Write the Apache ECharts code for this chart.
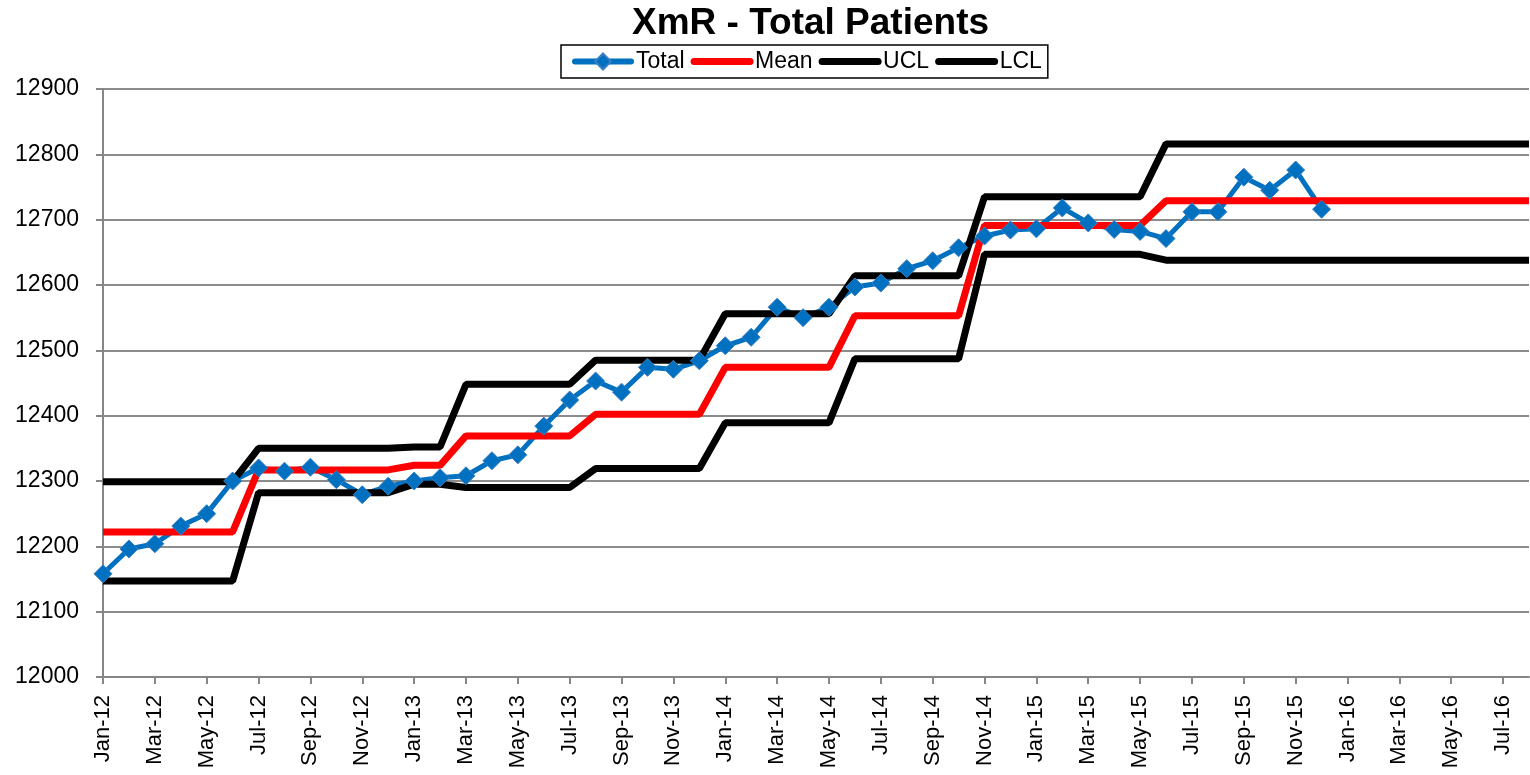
<!DOCTYPE html>
<html>
<head>
<meta charset="utf-8">
<script src="https://cdn.jsdelivr.net/npm/echarts@6/dist/echarts.min.js"></script>
<style>
html,body{margin:0;padding:0;background:#fff;}
#chart{width:1530px;height:775px;}
</style>
</head>
<body>
<div id="chart"></div>
<script>
const categories = [
 'Jan-12','Feb-12','Mar-12','Apr-12','May-12','Jun-12','Jul-12','Aug-12','Sep-12','Oct-12','Nov-12','Dec-12',
 'Jan-13','Feb-13','Mar-13','Apr-13','May-13','Jun-13','Jul-13','Aug-13','Sep-13','Oct-13','Nov-13','Dec-13',
 'Jan-14','Feb-14','Mar-14','Apr-14','May-14','Jun-14','Jul-14','Aug-14','Sep-14','Oct-14','Nov-14','Dec-14',
 'Jan-15','Feb-15','Mar-15','Apr-15','May-15','Jun-15','Jul-15','Aug-15','Sep-15','Oct-15','Nov-15','Dec-15',
 'Jan-16','Feb-16','Mar-16','Apr-16','May-16','Jun-16','Jul-16','Aug-16'
];
const total = [
 12158,12196,12204,12231,12250,12300,12320,12315,12321,12302,12279,12292,
 12300,12305,12308,12331,12340,12384,12424,12453,12436,12474,12471,12484,
 12507,12520,12566,12550,12566,12597,12603,12625,12637,12657,12675,12684,
 12686,12718,12695,12685,12682,12671,12712,12712,12765,12745,12776,12716
];
const mean = [
 12222,12222,12222,12222,12222,12222,12317,12317,12317,12317,12317,12317,
 12324,12324,12369,12369,12369,12369,12369,12402,12402,12402,12402,12402,
 12474,12474,12474,12474,12474,12553,12553,12553,12553,12553,12691,12691,
 12691,12691,12691,12691,12691,12729,12729,12729,12729,12729,12729,12729,
 12729,12729,12729,12729,12729,12729,12729,12729
];
const ucl = [
 12299,12299,12299,12299,12299,12299,12350,12350,12350,12350,12350,12350,
 12352,12352,12448,12448,12448,12448,12448,12485,12485,12485,12485,12485,
 12556,12556,12556,12556,12556,12614,12614,12614,12614,12614,12735,12735,
 12735,12735,12735,12735,12735,12816,12816,12816,12816,12816,12816,12816,
 12816,12816,12816,12816,12816,12816,12816,12816
];
const lcl = [
 12147,12147,12147,12147,12147,12147,12282,12282,12282,12282,12282,12282,
 12295,12295,12290,12290,12290,12290,12290,12319,12319,12319,12319,12319,
 12389,12389,12389,12389,12389,12487,12487,12487,12487,12487,12647,12647,
 12647,12647,12647,12647,12647,12638,12638,12638,12638,12638,12638,12638,
 12638,12638,12638,12638,12638,12638,12638,12638
];
const yMin = 12000, yMax = 12900, yStep = 100;

const chart = echarts.init(document.getElementById('chart'), null, {renderer:'canvas'});
const font = 'Liberation Sans, Arial, sans-serif';
const hidden = {color: 'rgba(0,0,0,0)', borderWidth: 0, opacity: 0};
chart.setOption({
  animation: false,
  backgroundColor: '#fff',
  title: {
    text: 'XmR - Total Patients',
    left: 627, top: 0,
    textStyle: {fontFamily: font, fontSize: 37, fontWeight: 'bold', color: '#000'}
  },
  legend: {
    left: 561, top: 45,
    padding: [5, 6, 5, 11],
    borderColor: '#000', borderWidth: 1.5,
    itemGap: 6, itemWidth: 56, itemHeight: 20,
    textStyle: {fontFamily: font, fontSize: 23, color: '#000'},
    data: [
      {name: 'Total', lineStyle: {width: 6, color: '#0070C0', cap: 'round'}},
      {name: 'Mean', itemStyle: hidden, lineStyle: {width: 7, color: '#FF0000', cap: 'round'}},
      {name: 'UCL', itemStyle: hidden, lineStyle: {width: 7, color: '#000', cap: 'round'}},
      {name: 'LCL', itemStyle: hidden, lineStyle: {width: 7, color: '#000', cap: 'round'}}
    ]
  },
  grid: {left: 103, right: 1, top: 89, bottom: 98},
  xAxis: {
    type: 'category',
    data: categories,
    boundaryGap: false,
    axisLine: {lineStyle: {color: '#868686', width: 2}},
    axisTick: {show: true, interval: 1, length: 7, lineStyle: {color: '#868686', width: 2}},
    axisLabel: {interval: 1, rotate: 90, margin: 18, color: '#000', fontFamily: font, fontSize: 22},
    splitLine: {show: false}
  },
  yAxis: {
    type: 'value',
    min: yMin, max: yMax, interval: yStep,
    axisLine: {show: true, lineStyle: {color: '#868686', width: 2}},
    axisTick: {show: true, length: 7, lineStyle: {color: '#868686', width: 2}},
    axisLabel: {color: '#000', fontFamily: font, fontSize: 23, margin: 24,
                formatter: function (v) { return String(v); }},
    splitLine: {lineStyle: {color: '#8c8c8c', width: 2}}
  },
  series: [
    {name: 'Total', type: 'line', data: total, symbol: 'diamond', symbolSize: 18,
     showAllSymbol: true,
     itemStyle: {color: '#0070C0', borderColor: '#3A7FC4', borderWidth: 1},
     lineStyle: {color: '#0070C0', width: 5}},
    {name: 'Mean', type: 'line', data: mean, symbol: 'none',
     itemStyle: {color: '#FF0000'}, lineStyle: {color: '#FF0000', width: 7}},
    {name: 'UCL', type: 'line', data: ucl, symbol: 'none',
     itemStyle: {color: '#000'}, lineStyle: {color: '#000', width: 7}},
    {name: 'LCL', type: 'line', data: lcl, symbol: 'none',
     itemStyle: {color: '#000'}, lineStyle: {color: '#000', width: 7}}
  ]
});
</script>
</body>
</html>
